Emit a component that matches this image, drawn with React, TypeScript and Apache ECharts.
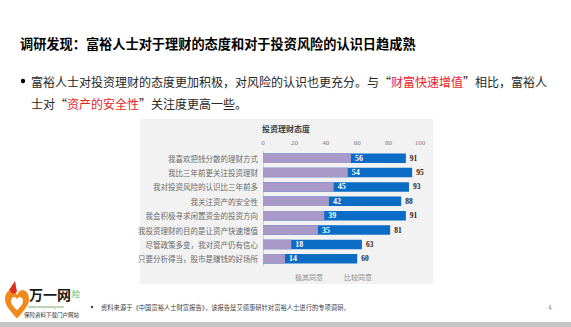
import React, { useEffect, useRef } from "react";
import * as echarts from "echarts";

const categories = [
  "我喜欢把钱分散的理财方式",
  "我比三年前更关注投资理财",
  "我对投资风险的认识比三年前多",
  "我关注资产的安全性",
  "我会积极寻求闲置资金的投资方向",
  "我投资理财的目的是让资产快速增值",
  "尽管政策多变，我对资产仍有信心",
  "只要分析得当，股市是赚钱的好场所",
];
const totalValues = [91, 95, 93, 88, 91, 81, 63, 60];
const innerValues = [56, 54, 45, 42, 39, 35, 18, 14];
const legendNames = ["极其同意", "比较同意"];
const tickValues = [0, 20, 40, 60, 80, 100];

const SANS = '"Noto Sans CJK SC", "Noto Sans", sans-serif';
const SERIF = '"Liberation Serif", "DejaVu Serif", serif';

echarts.graphic.registerShape(
  "heartLogo",
  echarts.graphic.extendPath(
    "M12 22 C5 16 0 12 0 7 C0 3 3 0 6.5 0 C9 0 11 2 12 4 C13 2 15 0 17.5 0 C21 0 24 3 24 7 C24 12 19 16 12 22 Z",
    {}
  )
);

export default function App() {
  const ref = useRef<HTMLDivElement>(null);
  useEffect(() => {
    if (!ref.current) return;
    const chart = echarts.init(ref.current, null, { renderer: "svg" });
    chart.setOption({
      animation: false,
      backgroundColor: "#ffffff",
      grid: { left: 263, right: 151, top: 151, bottom: 61, containLabel: false },
      xAxis: {
        type: "value",
        position: "top",
        min: tickValues[0],
        max: tickValues[tickValues.length - 1],
        interval: 20,
        axisLine: { show: false },
        axisTick: { show: false },
        splitLine: { show: false },
        axisLabel: { color: "#7f7f7f", fontSize: 7, fontFamily: SERIF, margin: 5 },
      },
      yAxis: {
        type: "category",
        inverse: true,
        data: categories,
        axisLine: { show: true, lineStyle: { color: "#d0d0d0", width: 1 } },
        axisTick: { show: false },
        axisLabel: { color: "#6a6a6a", fontSize: 7.5, fontFamily: SANS, margin: 5 },
      },
      series: [
        {
          name: legendNames[1],
          type: "bar",
          data: totalValues,
          barWidth: 9.5,
          barGap: "-100%",
          itemStyle: { color: "#0a6cc4" },
          label: {
            show: true,
            position: "right",
            distance: 4,
            color: "#262626",
            fontSize: 7.5,
            fontWeight: "bold",
            fontFamily: SERIF,
          },
        },
        {
          name: legendNames[0],
          type: "bar",
          data: innerValues,
          barWidth: 9.5,
          barGap: "-100%",
          itemStyle: { color: "#a899c9" },
          label: {
            show: true,
            position: "right",
            distance: 4,
            color: "#ffffff",
            fontSize: 8,
            fontWeight: "bold",
            fontFamily: SERIF,
          },
        },
      ],
      graphic: [
        {
          type: "rect",
          z: -10,
          shape: { x: 140, y: 119, width: 293, height: 165 },
          style: { fill: "#f2f2f2" },
        },
        {
          type: "text",
          x: 286,
          y: 128,
          style: {
            text: "投资理财态度",
            fill: "#404040",
            font: `bold 8px ${SANS}`,
            textAlign: "center",
            textVerticalAlign: "middle",
          },
        },
        {
          type: "text",
          x: 309,
          y: 277,
          style: {
            text: legendNames[0],
            fill: "#8c8c8c",
            font: `7px ${SANS}`,
            textAlign: "center",
            textVerticalAlign: "middle",
          },
        },
        {
          type: "text",
          x: 358,
          y: 277,
          style: {
            text: legendNames[1],
            fill: "#8c8c8c",
            font: `7px ${SANS}`,
            textAlign: "center",
            textVerticalAlign: "middle",
          },
        },
        {
          type: "text",
          x: 20,
          y: 43,
          style: {
            text: "调研发现：富裕人士对于理财的态度和对于投资风险的认识日趋成熟",
            fill: "#000000",
            font: `bold 13.2px ${SANS}`,
            textVerticalAlign: "middle",
          },
        },
        {
          type: "circle",
          shape: { cx: 23, cy: 81, r: 2.2 },
          style: { fill: "#000000" },
        },
        {
          type: "text",
          x: 31,
          y: 81,
          style: {
            text: "{n|富裕人士对投资理财的态度更加积极，对风险的认识也更充分。与“}{r|财富快速增值}{n|”相比，富裕人}",
            textVerticalAlign: "middle",
            rich: {
              n: { fill: "#262626", font: `12px ${SANS}` },
              r: { fill: "#e8231f", font: `12px ${SANS}` },
            },
          },
        },
        {
          type: "text",
          x: 31,
          y: 103,
          style: {
            text: "{n|士对“}{r|资产的安全性}{n|”关注度更高一些。}",
            textVerticalAlign: "middle",
            rich: {
              n: { fill: "#262626", font: `12px ${SANS}` },
              r: { fill: "#e8231f", font: `12px ${SANS}` },
            },
          },
        },
        {
          type: "circle",
          shape: { cx: 92, cy: 307, r: 1.2 },
          style: { fill: "#333333" },
        },
        {
          type: "text",
          x: 101,
          y: 307,
          style: {
            text: "资料来源于《中国富裕人士财富报告》，该报告是艾德惠研针对富裕人士进行的专项调研。",
            fill: "#404040",
            font: `6.3px ${SANS}`,
            textVerticalAlign: "middle",
          },
        },
        {
          type: "text",
          x: 550,
          y: 307,
          style: {
            text: "4",
            fill: "#7f7f7f",
            font: `6px ${SANS}`,
            textAlign: "center",
            textVerticalAlign: "middle",
          },
        },
        {
          type: "rect",
          shape: { x: 0, y: 322, width: 571, height: 5 },
          style: { fill: "#c4c4c4" },
        },
        {
          type: "heartLogo",
          x: 5,
          y: 290,
          scaleX: 1,
          scaleY: 1.3,
          style: { fill: "#f08a1c" },
        },
        {
          type: "polygon",
          shape: { points: [[9, 290], [15, 281], [17, 292], [13, 294]] },
          style: { fill: "#e0301e" },
        },
        {
          type: "heartLogo",
          x: 11,
          y: 297,
          scaleX: 0.5,
          scaleY: 0.6,
          style: { fill: "#ffffff" },
        },
        {
          type: "text",
          x: 29,
          y: 294,
          style: {
            text: "万一网",
            fill: "#1a1a1a",
            font: `bold 14px ${SANS}`,
            textVerticalAlign: "middle",
          },
        },
        {
          type: "text",
          x: 72,
          y: 293,
          style: {
            text: "险",
            fill: "#4caf50",
            font: `8px ${SANS}`,
            textVerticalAlign: "middle",
          },
        },
        {
          type: "text",
          x: 28,
          y: 306.5,
          style: {
            text: "www.wanyiwang.com",
            fill: "#3a8f3a",
            font: `3.5px ${SANS}`,
            textVerticalAlign: "middle",
          },
        },
        {
          type: "text",
          x: 24,
          y: 315,
          style: {
            text: "保险资料下载门户网站",
            fill: "#333333",
            font: `5.5px ${SANS}`,
            textVerticalAlign: "middle",
          },
        },
      ],
    });
    return () => chart.dispose();
  }, []);
  return (
    <div
      ref={ref}
      style={{ position: "fixed", left: 0, top: 0, width: 571, height: 327 }}
    />
  );
}
